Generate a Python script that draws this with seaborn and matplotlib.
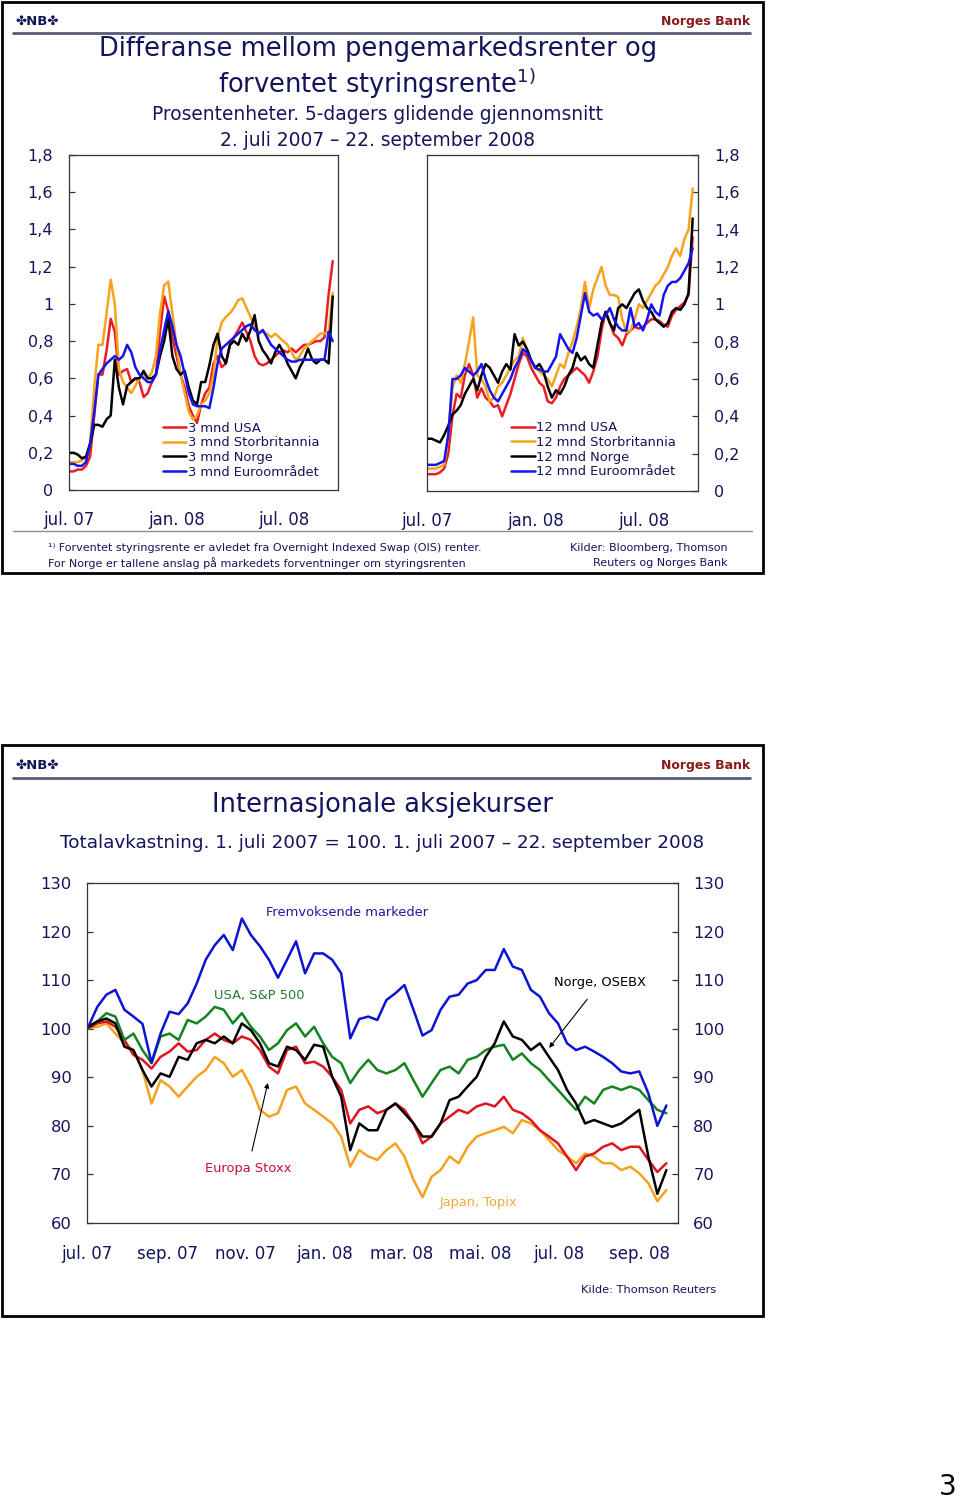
import pandas as pd
import matplotlib.pyplot as plt
from matplotlib.lines import Line2D
from matplotlib.patches import Rectangle
import seaborn as sns

sns.set_style("white")
plt.rcParams['font.family'] = ['DejaVu Sans']
plt.rcParams['mathtext.default'] = 'regular'

W, H = 960, 1501
NAVY = '#14145c'

# weekly observations (Mondays), 2 July 2007 - 22 September 2008
weeks = pd.date_range('2007-07-02', periods=65, freq='7D')

# ---- differanse, 3 mnd (prosentenheter)
usa3 = [0.10, 0.10, 0.11, 0.11, 0.13, 0.18, 0.40, 0.62, 0.62, 0.75,
        0.92, 0.85, 0.62, 0.64, 0.65, 0.58, 0.60, 0.58, 0.50, 0.52,
        0.58, 0.62, 0.85, 1.04, 0.96, 0.82, 0.72, 0.62, 0.55, 0.45,
        0.40, 0.36, 0.46, 0.52, 0.55, 0.68, 0.72, 0.66, 0.68, 0.78,
        0.82, 0.86, 0.90, 0.85, 0.80, 0.72, 0.68, 0.67, 0.68, 0.70,
        0.72, 0.74, 0.75, 0.74, 0.76, 0.74, 0.76, 0.78, 0.78, 0.79,
        0.80, 0.80, 0.82, 1.05, 1.23]
uk3 = [0.15, 0.15, 0.15, 0.16, 0.17, 0.25, 0.55, 0.78, 0.78, 0.95,
       1.13, 1.00, 0.65, 0.58, 0.55, 0.52, 0.56, 0.60, 0.62, 0.60,
       0.63, 0.72, 0.95, 1.10, 1.12, 0.95, 0.78, 0.62, 0.52, 0.42,
       0.38, 0.40, 0.46, 0.48, 0.52, 0.62, 0.82, 0.90, 0.93, 0.95,
       0.98, 1.02, 1.03, 0.98, 0.93, 0.88, 0.85, 0.85, 0.84, 0.82,
       0.84, 0.82, 0.80, 0.78, 0.74, 0.70, 0.72, 0.76, 0.78, 0.80,
       0.82, 0.84, 0.84, 0.85, 1.06]
no3 = [0.20, 0.20, 0.19, 0.17, 0.18, 0.25, 0.35, 0.35, 0.34, 0.38,
       0.40, 0.70, 0.55, 0.46, 0.56, 0.58, 0.60, 0.60, 0.64, 0.60,
       0.60, 0.62, 0.72, 0.80, 0.92, 0.72, 0.65, 0.62, 0.64, 0.55,
       0.48, 0.46, 0.58, 0.58, 0.67, 0.78, 0.84, 0.72, 0.68, 0.78,
       0.80, 0.78, 0.84, 0.80, 0.86, 0.94, 0.80, 0.75, 0.72, 0.68,
       0.74, 0.78, 0.74, 0.68, 0.64, 0.60, 0.66, 0.70, 0.76, 0.70,
       0.68, 0.70, 0.70, 0.68, 1.04]
eu3 = [0.14, 0.14, 0.13, 0.13, 0.15, 0.25, 0.42, 0.62, 0.65, 0.68,
       0.70, 0.72, 0.70, 0.72, 0.78, 0.74, 0.66, 0.62, 0.60, 0.58,
       0.58, 0.62, 0.75, 0.86, 0.96, 0.88, 0.78, 0.72, 0.62, 0.52,
       0.46, 0.45, 0.45, 0.45, 0.44, 0.55, 0.68, 0.76, 0.78, 0.80,
       0.82, 0.84, 0.86, 0.88, 0.89, 0.86, 0.84, 0.86, 0.82, 0.78,
       0.76, 0.74, 0.72, 0.70, 0.69, 0.69, 0.70, 0.70, 0.70, 0.70,
       0.70, 0.70, 0.70, 0.85, 0.80]

# ---- differanse, 12 mnd
usa12 = [0.09, 0.09, 0.09, 0.10, 0.12, 0.20, 0.40, 0.52, 0.50, 0.62,
         0.68, 0.62, 0.50, 0.55, 0.50, 0.48, 0.45, 0.46, 0.40, 0.46,
         0.52, 0.60, 0.68, 0.74, 0.72, 0.66, 0.62, 0.58, 0.56, 0.48,
         0.47, 0.50, 0.56, 0.60, 0.62, 0.64, 0.66, 0.64, 0.62, 0.58,
         0.64, 0.72, 0.86, 0.96, 0.90, 0.84, 0.82, 0.78, 0.84, 0.86,
         0.88, 0.87, 0.88, 0.90, 0.92, 0.92, 0.91, 0.89, 0.88, 0.94,
         0.97, 0.99, 1.01, 1.05, 1.36]
uk12 = [0.12, 0.12, 0.12, 0.13, 0.14, 0.30, 0.55, 0.62, 0.58, 0.68,
        0.80, 0.93, 0.62, 0.60, 0.56, 0.48, 0.50, 0.56, 0.58, 0.62,
        0.66, 0.70, 0.72, 0.82, 0.76, 0.70, 0.66, 0.64, 0.62, 0.60,
        0.56, 0.62, 0.68, 0.66, 0.74, 0.80, 0.88, 0.98, 1.12, 0.98,
        1.08, 1.14, 1.20, 1.10, 1.05, 1.05, 1.04, 0.92, 0.85, 0.86,
        0.92, 1.00, 0.98, 1.02, 1.06, 1.10, 1.12, 1.16, 1.20, 1.26,
        1.30, 1.26, 1.35, 1.40, 1.62]
no12 = [0.28, 0.28, 0.27, 0.26, 0.30, 0.35, 0.41, 0.43, 0.46, 0.52,
        0.56, 0.60, 0.54, 0.62, 0.68, 0.66, 0.62, 0.58, 0.64, 0.68,
        0.65, 0.84, 0.78, 0.80, 0.76, 0.70, 0.66, 0.68, 0.64, 0.56,
        0.50, 0.54, 0.52, 0.56, 0.62, 0.66, 0.74, 0.70, 0.72, 0.68,
        0.66, 0.78, 0.90, 0.96, 0.90, 0.86, 0.98, 1.00, 0.98, 1.02,
        1.06, 1.08, 1.02, 0.98, 0.96, 0.92, 0.90, 0.88, 0.90, 0.96,
        0.98, 0.97, 1.00, 1.06, 1.46]
eu12 = [0.14, 0.14, 0.14, 0.15, 0.16, 0.30, 0.60, 0.60, 0.62, 0.66,
        0.64, 0.62, 0.64, 0.68, 0.60, 0.54, 0.50, 0.48, 0.52, 0.56,
        0.60, 0.66, 0.70, 0.76, 0.74, 0.70, 0.66, 0.65, 0.64, 0.64,
        0.68, 0.72, 0.84, 0.80, 0.76, 0.74, 0.82, 0.94, 1.06, 0.96,
        0.94, 0.95, 0.92, 0.94, 0.98, 0.92, 0.88, 0.86, 0.86, 0.98,
        0.88, 0.90, 0.86, 0.92, 1.00, 0.96, 0.94, 1.05, 1.10, 1.12,
        1.12, 1.14, 1.18, 1.22, 1.30]

# ---- aksjekurser, 1. juli 2007 = 100
em = [100.4, 104.5, 107.0, 108.0, 103.9, 102.5, 101.0, 93.0, 99.0, 103.5,
      103.0, 105.2, 109.3, 114.2, 117.2, 119.3, 116.2, 122.7, 119.3, 117.0,
      114.2, 110.5, 114.2, 118.0, 111.4, 115.5, 115.5, 114.2, 111.4, 98.0,
      102.0, 102.5, 101.8, 105.9, 107.3, 109.0, 103.9, 98.6, 99.7, 103.9,
      106.6, 107.0, 109.3, 110.0, 112.1, 112.1, 116.4, 112.8, 112.1, 108.0,
      106.6, 103.2, 101.1, 97.0, 95.6, 96.3, 95.3, 94.2, 92.9, 91.2,
      90.8, 91.2, 86.7, 80.0, 84.2]
sp500 = [100.4, 101.5, 103.2, 102.5, 97.7, 99.0, 95.6, 92.9, 98.4, 99.0,
         97.7, 101.8, 101.1, 102.5, 104.5, 103.9, 101.1, 103.2, 100.4, 98.4,
         95.6, 97.0, 99.7, 101.1, 98.4, 100.4, 97.0, 94.2, 92.9, 88.8,
         91.5, 93.6, 91.5, 90.8, 91.5, 92.9, 89.4, 86.0, 88.8, 91.5,
         92.2, 90.8, 93.6, 94.2, 95.6, 96.3, 96.7, 93.6, 94.9, 92.9,
         91.5, 89.4, 87.4, 85.3, 83.3, 86.0, 84.6, 87.4, 88.1, 87.4,
         88.1, 87.4, 85.3, 83.3, 82.6]
stoxx = [100.1, 101.1, 101.5, 100.4, 97.7, 94.6, 93.6, 91.8, 94.2, 95.3,
         97.0, 95.3, 95.6, 97.7, 99.0, 97.7, 97.0, 98.4, 97.7, 95.6,
         92.2, 90.8, 95.6, 96.3, 92.9, 93.2, 92.2, 90.1, 87.4, 80.5,
         83.3, 84.0, 82.6, 83.3, 84.6, 83.3, 80.5, 76.4, 77.8, 80.5,
         81.9, 83.3, 82.6, 84.0, 84.6, 84.0, 86.0, 83.3, 82.6, 81.2,
         79.1, 77.8, 76.4, 73.7, 70.9, 73.7, 74.3, 75.7, 76.4, 75.0,
         75.7, 75.7, 73.0, 70.5, 72.3]
osebx = [100.4, 101.5, 102.1, 101.1, 96.3, 95.6, 91.5, 88.1, 90.8, 90.1,
         94.2, 93.6, 97.0, 97.7, 97.0, 98.4, 97.0, 101.1, 99.7, 97.0,
         92.9, 92.2, 96.3, 95.6, 93.6, 96.7, 96.3, 90.1, 86.0, 75.0,
         80.5, 79.1, 79.1, 83.3, 84.6, 82.6, 80.5, 77.8, 77.8, 80.5,
         85.3, 86.0, 88.1, 90.1, 94.2, 97.0, 101.5, 98.4, 97.7, 95.6,
         97.0, 94.2, 91.5, 87.4, 84.6, 80.5, 81.2, 80.5, 79.8, 80.5,
         81.9, 83.3, 73.7, 66.0, 70.9]
topix = [100.1, 100.4, 101.1, 99.0, 97.0, 95.6, 91.5, 84.6, 89.4, 88.1,
         86.0, 88.1, 90.1, 91.5, 94.2, 92.9, 90.1, 91.5, 88.1, 83.3,
         81.9, 82.6, 87.4, 88.1, 84.6, 83.3, 81.9, 80.5, 77.8, 71.6,
         75.0, 73.7, 73.0, 75.0, 76.4, 73.7, 68.9, 65.3, 69.5, 70.9,
         73.7, 72.3, 75.7, 77.8, 78.5, 79.1, 79.8, 78.5, 81.2, 80.5,
         79.1, 77.1, 75.0, 73.7, 72.3, 74.3, 73.7, 72.3, 72.3, 70.9,
         71.6, 70.2, 68.2, 64.5, 66.8]

labels3 = ['3 mnd USA', '3 mnd Storbritannia', '3 mnd Norge', '3 mnd Euroområdet']
labels12 = ['12 mnd USA', '12 mnd Storbritannia', '12 mnd Norge', '12 mnd Euroområdet']
top_colors = ['#ec1c24', '#f6a31e', '#000000', '#1414f0']

top_ticks = pd.to_datetime(['2007-07-01', '2008-01-01', '2008-07-01'])
top_ticklabels = ['jul. 07', 'jan. 08', 'jul. 08']
bot_ticks = pd.to_datetime(['2007-07-01', '2007-09-01', '2007-11-01', '2008-01-01',
                            '2008-03-01', '2008-05-01', '2008-07-01', '2008-09-01'])
bot_ticklabels = ['jul. 07', 'sep. 07', 'nov. 07', 'jan. 08',
                  'mar. 08', 'mai. 08', 'jul. 08', 'sep. 08']
xmin, xmax = pd.Timestamp('2007-07-01'), pd.Timestamp('2008-10-01')


def long_frame(series, names):
    parts = [pd.DataFrame({'dato': weeks, 'verdi': s, 'serie': n}) for s, n in zip(series, names)]
    return pd.concat(parts, ignore_index=True)


def box(l, t, r, b):
    return [l / W, 1 - b / H, (r - l) / W, (b - t) / H]


fig = plt.figure(figsize=(W / 100, H / 100), dpi=100)


def ftext(x, y, s, **kw):
    kw.setdefault('va', 'center')
    kw.setdefault('color', NAVY)
    fig.text(x / W, 1 - y / H, s, **kw)


def hline(x0, x1, y, **kw):
    fig.add_artist(Line2D([x0 / W, x1 / W], [1 - y / H, 1 - y / H], transform=fig.transFigure, **kw))


def frame(l, t, r, b):
    fig.add_artist(Rectangle((l / W, 1 - b / H), (r - l) / W, (b - t) / H,
                             transform=fig.transFigure, fill=False, ec='black', lw=2))


def style_axes(ax, ticks, ticklabels, xpad):
    ax.set_xlim(xmin, xmax)
    ax.set_xticks(ticks)
    ax.set_xticklabels(ticklabels)
    ax.set_xlabel('')
    ax.set_ylabel('')
    for sp in ax.spines.values():
        sp.set_color('#333333')
        sp.set_linewidth(0.9)
    ax.tick_params(axis='x', direction='in', length=4, width=0.9, color='#333333',
                   labelsize=12, labelcolor=NAVY, pad=xpad)


# ---------------- top slide ----------------
frame(2, 2, 763, 573)
ftext(15, 21, '✤NB✤', ha='left', fontsize=9.5, fontweight='bold')
ftext(750, 21, 'Norges Bank', ha='right', fontsize=9, fontweight='bold', color='#8b1a1a')
hline(13, 750, 33, color='#5a5a78', lw=2)
ftext(378, 49, 'Differanse mellom pengemarkedsrenter og', ha='center', fontsize=18.5)
ftext(377, 84, 'forventet styringsrente$^{1)}$', ha='center', fontsize=18.5)
ftext(378, 115, 'Prosentenheter. 5-dagers glidende gjennomsnitt', ha='center', fontsize=13.4)
ftext(378, 140, '2. juli 2007 – 22. september 2008', ha='center', fontsize=13.4)

panels = [
    (box(69, 155, 338, 490), [usa3, uk3, no3, eu3], labels3, 'left', (0.349, 0.204)),
    (box(427, 155, 698, 491), [usa12, uk12, no12, eu12], labels12, 'right', (0.31, 0.208)),
]
for rect, series, names, side, anchor in panels:
    ax = fig.add_axes(rect)
    df = long_frame(series, names)
    sns.lineplot(data=df, x='dato', y='verdi', hue='serie', hue_order=names,
                 palette=dict(zip(names, top_colors)), linewidth=1.8,
                 errorbar=None, legend=False, ax=ax)
    ax.set_ylim(0, 1.8)
    ax.set_yticks([0, 0.2, 0.4, 0.6, 0.8, 1.0, 1.2, 1.4, 1.6, 1.8])
    ax.set_yticklabels(['0', '0,2', '0,4', '0,6', '0,8', '1', '1,2', '1,4', '1,6', '1,8'])
    style_axes(ax, top_ticks, top_ticklabels, 15)
    if side == 'left':
        ax.tick_params(axis='y', direction='in', length=4, width=0.9, color='#333333',
                       left=True, right=False, labelleft=True, labelright=False,
                       labelsize=11.5, labelcolor=NAVY, pad=11.5)
    else:
        ax.tick_params(axis='y', direction='in', length=4, width=0.9, color='#333333',
                       left=False, right=True, labelleft=False, labelright=True,
                       labelsize=11.5, labelcolor=NAVY, pad=11.5)
    handles = [Line2D([], [], color=c, lw=1.8) for c in top_colors]
    ax.legend(handles, names, loc='upper left', bbox_to_anchor=anchor, frameon=False,
              fontsize=9.4, handlelength=1.8, handletextpad=0.15, labelspacing=0.13,
              borderpad=0, borderaxespad=0, labelcolor=NAVY)

hline(13, 752, 531, color='#8a8a9a', lw=1)
ftext(48, 548, '¹⁾ Forventet styringsrente er avledet fra Overnight Indexed Swap (OIS) renter.',
      ha='left', fontsize=8.0)
ftext(48, 563, 'For Norge er tallene anslag på markedets forventninger om styringsrenten',
      ha='left', fontsize=8.0)
ftext(728, 548, 'Kilder: Bloomberg, Thomson', ha='right', fontsize=8.0)
ftext(728, 563, 'Reuters og Norges Bank', ha='right', fontsize=8.0)

# ---------------- bottom slide ----------------
frame(2, 745, 763, 1316)
ftext(15, 765, '✤NB✤', ha='left', fontsize=9.5, fontweight='bold')
ftext(750, 765, 'Norges Bank', ha='right', fontsize=9, fontweight='bold', color='#8b1a1a')
hline(13, 750, 778, color='#5a5a78', lw=2)
ftext(382, 805, 'Internasjonale aksjekurser', ha='center', fontsize=18.5)
ftext(382, 843, 'Totalavkastning. 1. juli 2007 = 100. 1. juli 2007 – 22. september 2008',
      ha='center', fontsize=13.2)

stock_names = ['Japan, Topix', 'Europa Stoxx', 'USA, S&P 500', 'Norge, OSEBX', 'Fremvoksende markeder']
stock_colors = ['#f4a21e', '#e0141e', '#14841e', '#000000', '#0c14d2']
ax = fig.add_axes(box(87, 883, 678, 1223))
df = long_frame([topix, stoxx, sp500, osebx, em], stock_names)
sns.lineplot(data=df, x='dato', y='verdi', hue='serie', hue_order=stock_names,
             palette=dict(zip(stock_names, stock_colors)), linewidth=1.8,
             errorbar=None, legend=False, ax=ax)
ax.set_ylim(60, 130)
ax.set_yticks(range(60, 131, 10))
style_axes(ax, bot_ticks, bot_ticklabels, 16)
ax.tick_params(axis='y', direction='in', length=4, width=0.9, color='#333333',
               left=True, right=True, labelleft=True, labelright=True,
               labelsize=11.8, labelcolor=NAVY, pad=11)

ax.text(0.44, 0.912, 'Fremvoksende markeder', transform=ax.transAxes, ha='center', va='center',
        fontsize=9.4, color='#1c1ca0')
ax.text(0.291, 0.668, 'USA, S&P 500', transform=ax.transAxes, ha='center', va='center',
        fontsize=9.4, color='#2a7a2a')
ax.text(0.663, 0.059, 'Japan, Topix', transform=ax.transAxes, ha='center', va='center',
        fontsize=9.4, color='#f0a83c')
ax.annotate('Norge, OSEBX', xy=(0.782, 0.515), xytext=(0.868, 0.706),
            xycoords='axes fraction', textcoords='axes fraction', ha='center', va='center',
            fontsize=9.4, color='black',
            arrowprops=dict(arrowstyle='-|>', color='black', lw=0.8, mutation_scale=7,
                            shrinkA=6, shrinkB=0))
ax.annotate('Europa Stoxx', xy=(0.306, 0.412), xytext=(0.272, 0.159),
            xycoords='axes fraction', textcoords='axes fraction', ha='center', va='center',
            fontsize=9.4, color='#c8102e',
            arrowprops=dict(arrowstyle='-|>', color='black', lw=0.8, mutation_scale=7,
                            shrinkA=6, shrinkB=0))

ftext(716, 1290, 'Kilde: Thomson Reuters', ha='right', fontsize=8.2)
ftext(948, 1487, '3', ha='center', fontsize=20, color='black')

fig.savefig('out.png', dpi=100)
